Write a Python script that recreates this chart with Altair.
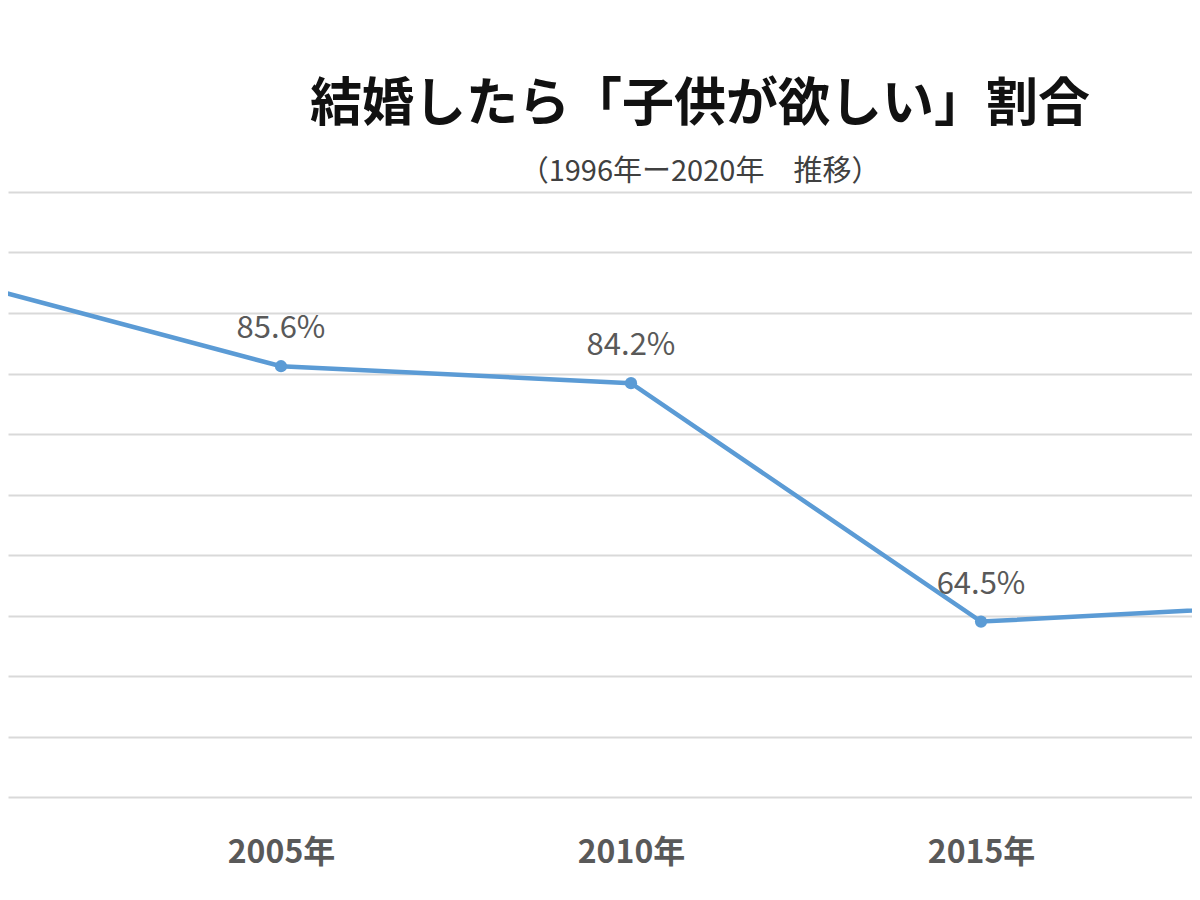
import altair as alt
import pandas as pd

years = [2000, 2005, 2010, 2015, 2020]
values = [93.3, 85.6, 84.2, 64.5, 66.0]
labels = ["", "85.6%", "84.2%", "64.5%", ""]
y_ticks = [50, 55, 60, 65, 70, 75, 80, 85, 90, 95, 100]

title_text = "結婚したら「子供が欲しい」割合"
subtitle_text = "（1996年ー2020年　推移）"

df = pd.DataFrame({"year": years, "value": values, "label": labels})

FONT = "Noto Sans CJK JP"
BLUE = "#5B9BD5"
GRID = "#D9D9D9"

x_enc = alt.X(
    "year:Q",
    scale=alt.Scale(domain=[2001.1, 2018.014], nice=False, zero=False),
    axis=alt.Axis(
        values=years,
        labelExpr="datum.value + '年'",
        title=None,
        grid=False,
        ticks=False,
        domain=False,
        labelFont=FONT,
        labelFontSize=32,
        labelFontWeight="bold",
        labelColor="#595959",
        labelPadding=40,
    ),
)
y_enc = alt.Y(
    "value:Q",
    scale=alt.Scale(domain=[50, 100], nice=False, zero=False),
    axis=alt.Axis(
        values=y_ticks,
        labels=False,
        ticks=False,
        domain=False,
        title=None,
        gridColor=GRID,
        gridWidth=2,
    ),
)

base = alt.Chart(df).encode(x=x_enc, y=y_enc)

line = base.mark_line(color=BLUE, strokeWidth=4.5, clip=True)
pts = base.mark_point(filled=True, color=BLUE, size=150, opacity=1, clip=True)
txt = base.mark_text(
    dy=-37, font=FONT, fontSize=31, color="#595959", clip=True
).encode(text="label:N")

chart = (
    alt.layer(line, pts, txt)
    .properties(
        width=1184,
        height=605,
        background="white",
        autosize=alt.AutoSizeParams(type="none"),
        padding={"left": 0, "right": 0, "top": 184, "bottom": 95},
        title=alt.TitleParams(
            text=title_text,
            subtitle=subtitle_text,
            anchor="middle",
            dx=100,
            offset=4,
            font=FONT,
            fontSize=52,
            fontWeight="bold",
            color="#111111",
            subtitleFont=FONT,
            subtitleFontSize=29,
            subtitleColor="#404040",
            subtitlePadding=26,
        ),
    )
    .configure_view(stroke=None)
)

chart.save("out.html", embed_options={"renderer": "svg", "actions": False})
